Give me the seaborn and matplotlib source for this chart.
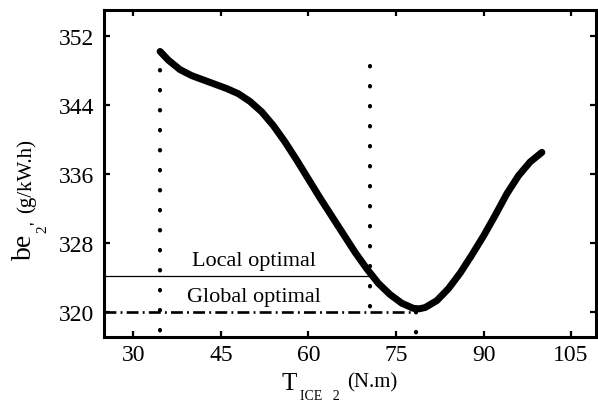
import matplotlib
matplotlib.use("Agg")
import matplotlib.pyplot as plt
import seaborn as sns
import pandas as pd

# Curve: torque (N.m) vs specific fuel consumption (g/kW.h)
torque = [34.6, 36, 38, 40, 42, 44, 46, 48, 50, 52,
          54, 56, 58, 60, 62, 64, 66, 68, 70, 72,
          74, 76, 78, 79, 80, 82, 84, 86, 88, 90,
          92, 94, 96, 98, 100]
be2 = [350.2, 349.2, 348.1, 347.4, 346.9, 346.4, 345.9, 345.3, 344.4, 343.2,
       341.6, 339.7, 337.6, 335.4, 333.2, 331.1, 329.0, 326.9, 325.0, 323.3,
       322.0, 321.0, 320.4, 320.35, 320.5, 321.3, 322.7, 324.5, 326.6, 328.8,
       331.2, 333.7, 335.8, 337.4, 338.5]

# Reference markers
local_x = 70.5
local_y = 324.1
global_x = 78.4
global_y = 320.0
start_x = 34.6

xticks = [30, 45, 60, 75, 90, 105]
yticks = [320, 328, 336, 344, 352]

df = pd.DataFrame({"torque": torque, "be2": be2})

sns.set_style("ticks", {"axes.edgecolor": "black", "xtick.color": "black",
                        "ytick.color": "black", "text.color": "black",
                        "axes.labelcolor": "black"})
plt.rcParams["font.family"] = ["Liberation Serif", "DejaVu Serif"]

fig = plt.figure(figsize=(5.98, 4.10), dpi=100)
ax = fig.add_axes([0.174, 0.176, 0.823, 0.797])

sns.lineplot(x="torque", y="be2", data=df, ax=ax, color="black",
             linewidth=5.0, sort=False)

# Vertical dotted guides (drawn top-down so the dots start at the top)
dot = dict(color="black", linewidth=3.0, linestyle=(0, (0.1, 4.7)),
           dash_capstyle="round")
ax.plot([start_x, start_x], [348.0, 317.0], **dot)
ax.plot([local_x, local_x], [348.5, 320.0], **dot)
ax.plot([global_x, global_x], [320.0, 317.0], **dot)

# Local optimal: thin solid line
ax.plot([25, local_x], [local_y, local_y], color="black", linewidth=0.9)
# Global optimal: dash-dot line
ax.plot([25, global_x], [global_y, global_y], color="black", linewidth=1.9,
        linestyle=(0, (4.5, 1.6, 0.7, 1.6)))

ax.text(50.6, 326.0, "Local optimal", ha="center", va="center", fontsize=16)
ax.text(50.7, 321.8, "Global optimal", ha="center", va="center", fontsize=16)

ax.set_xlim(25, 109.3)
ax.set_ylim(317.1, 355.0)
ax.set_xticks(xticks)
ax.set_yticks(yticks)
ax.tick_params(direction="in", length=4.5, width=1.6, top=True, right=True,
               labeltop=False, labelright=False, labelsize=17,
               colors="black")
ax.tick_params(axis="x", pad=5)
ax.tick_params(axis="y", pad=7)
for s in ax.spines.values():
    s.set_linewidth(2.2)
    s.set_color("black")
    s.set_visible(True)

ax.set_xlabel("")
ax.set_ylabel("")

# Axis titles built from pieces (different sizes)
fig.text(0.470, 0.049, "T", fontsize=18, ha="left", va="baseline")
fig.text(0.502, 0.024, "ICE   2", fontsize=10, ha="left", va="baseline")
fig.text(0.580, 0.056, "(N.m)", fontsize=15, ha="left", va="baseline")

fig.text(0.020, 0.366, "be", fontsize=20, rotation=90, ha="left", va="bottom")
fig.text(0.060, 0.432, "2", fontsize=11, rotation=90, ha="left", va="bottom")
fig.text(0.050, 0.452, "'", fontsize=14, rotation=90, ha="left", va="bottom")
fig.text(0.027, 0.480, "(g/kW.h)", fontsize=15, rotation=90, ha="left", va="bottom")

fig.savefig("out.png", dpi=100)
